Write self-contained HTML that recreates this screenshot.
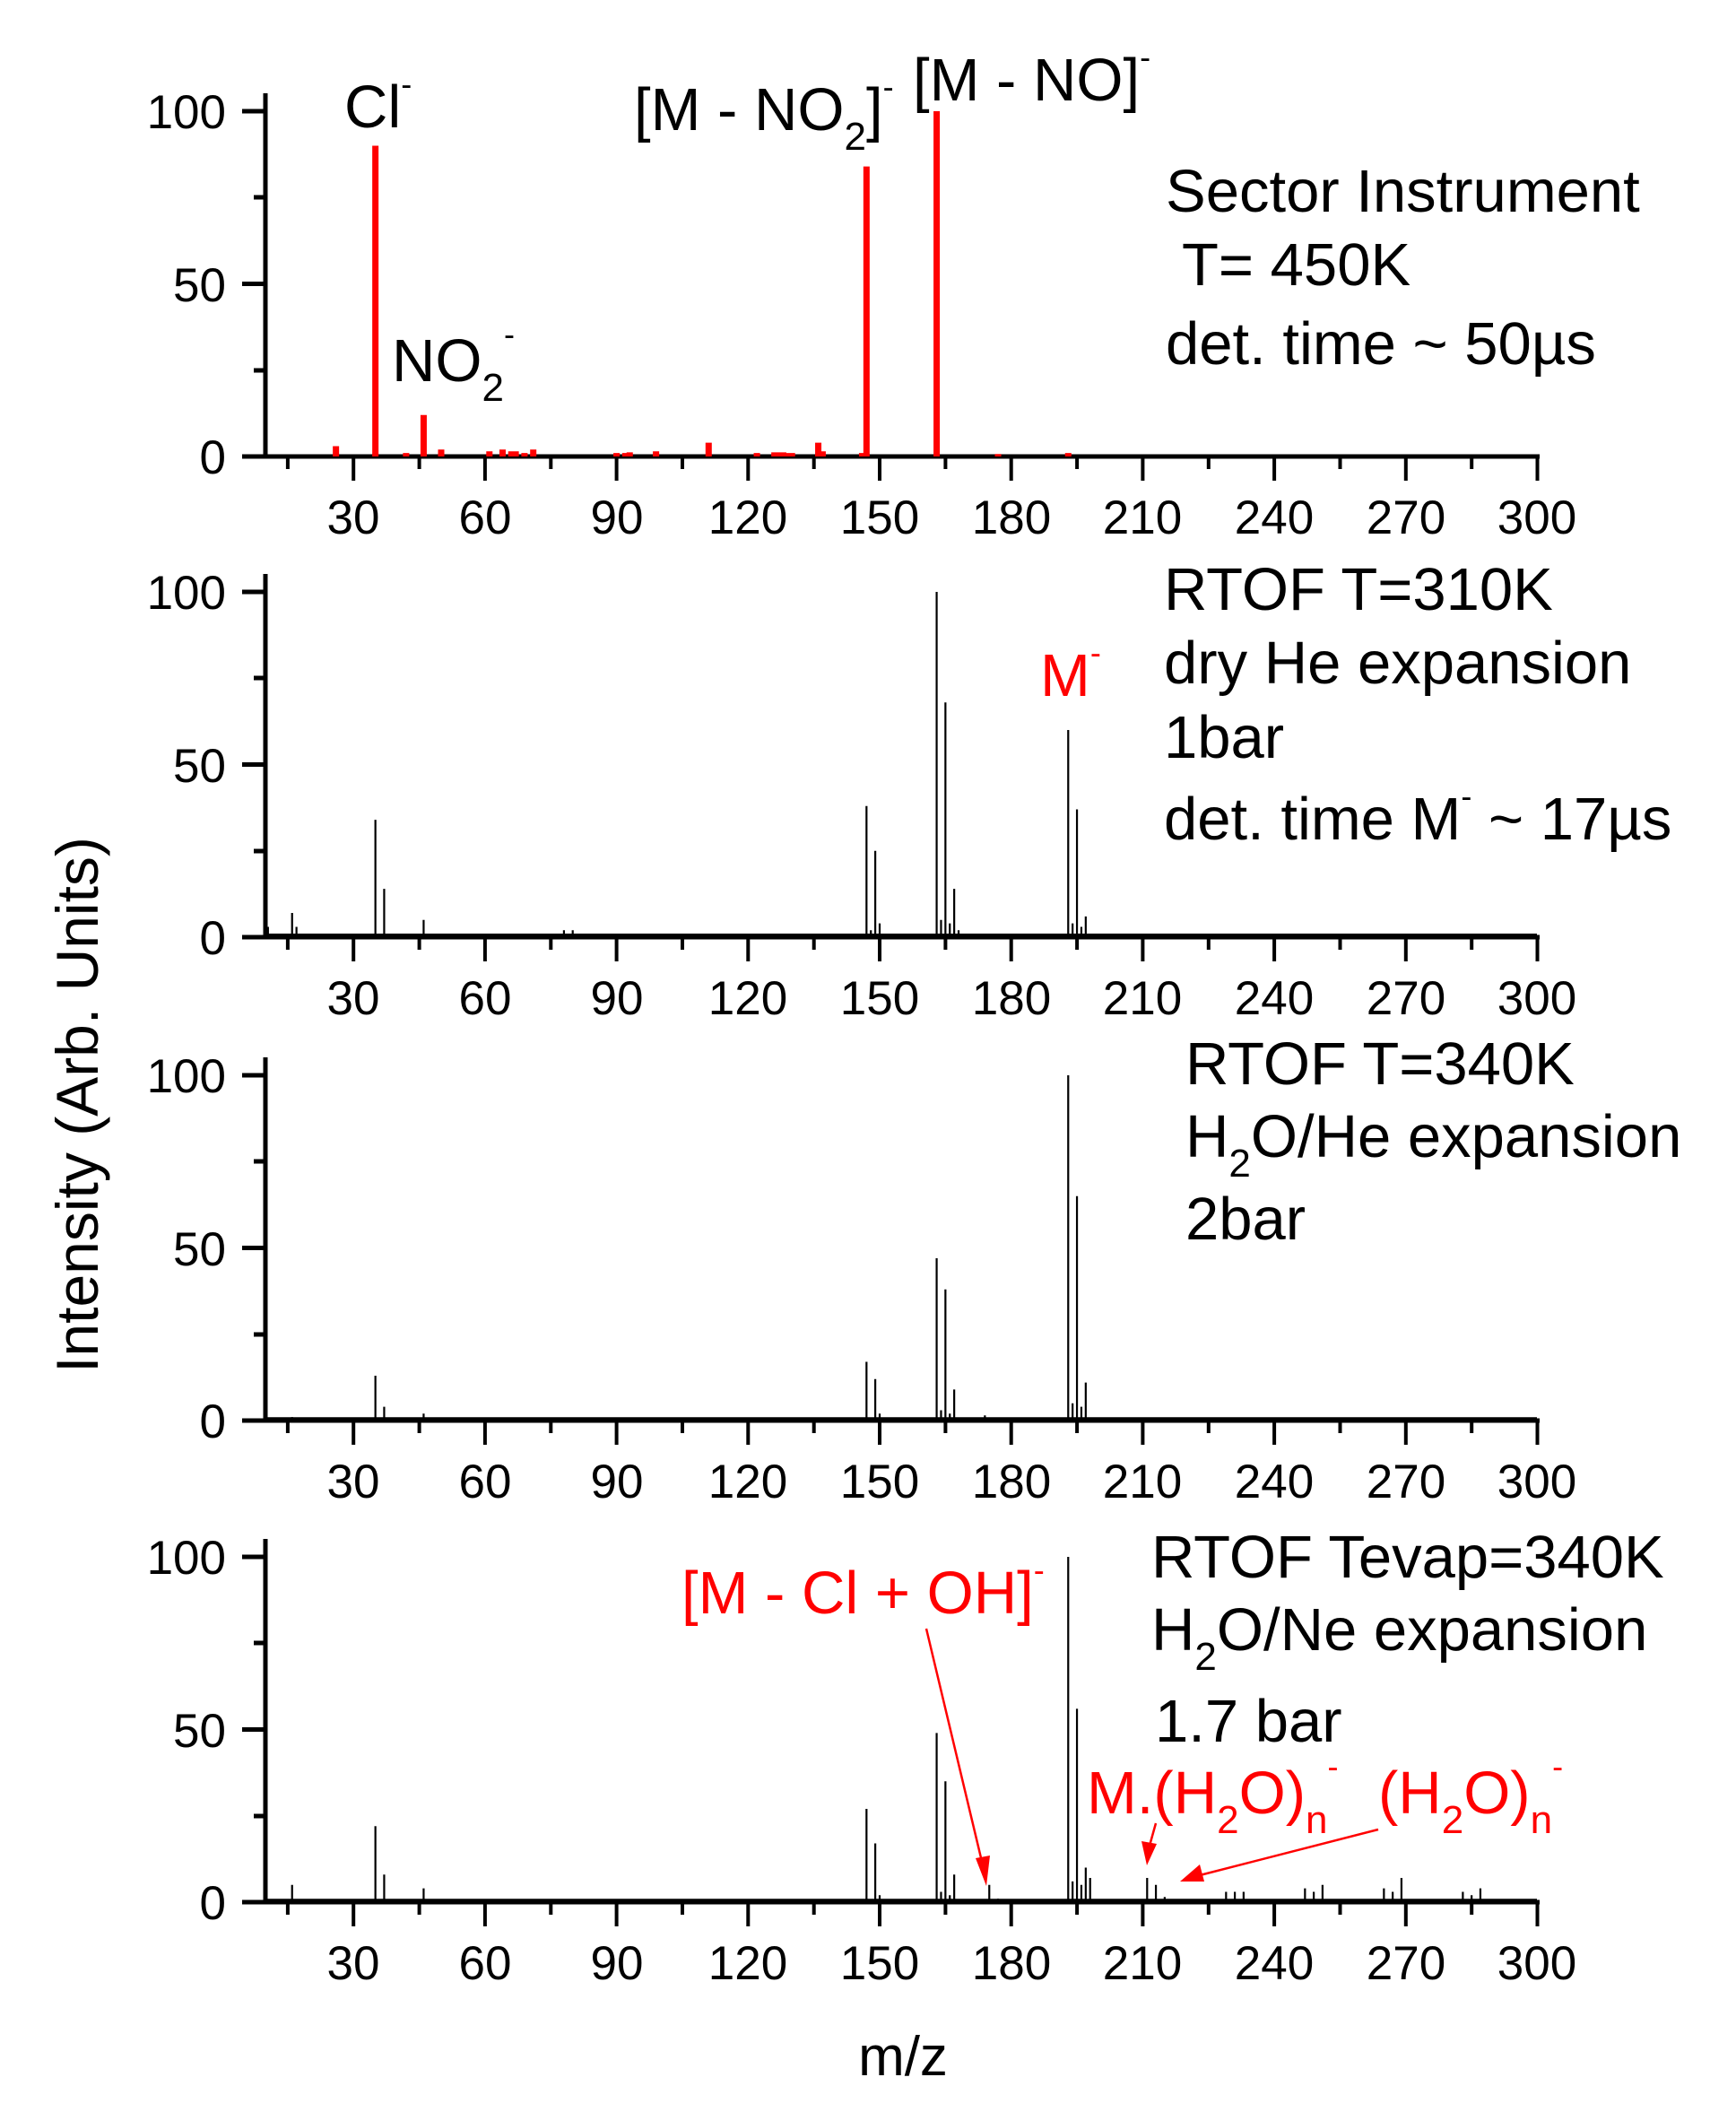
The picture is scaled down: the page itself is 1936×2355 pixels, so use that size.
<!DOCTYPE html>
<html><head><meta charset="utf-8">
<style>
html,body{margin:0;padding:0;background:#fff;}
svg{display:block;}
text{font-family:"Liberation Sans",Arial,sans-serif;}
</style></head>
<body>
<svg width="1936" height="2355" viewBox="0 0 1936 2355" xmlns="http://www.w3.org/2000/svg">
<defs>
<g id="xaxis">
  <line x1="294" y1="0" x2="1717" y2="0" stroke="#000" stroke-width="5"/>
  <g stroke="#000" stroke-width="4">
    <line x1="394.2" y1="0" x2="394.2" y2="27"/><line x1="540.9" y1="0" x2="540.9" y2="27"/>
    <line x1="687.6" y1="0" x2="687.6" y2="27"/><line x1="834.3" y1="0" x2="834.3" y2="27"/>
    <line x1="981" y1="0" x2="981" y2="27"/><line x1="1127.7" y1="0" x2="1127.7" y2="27"/>
    <line x1="1274.4" y1="0" x2="1274.4" y2="27"/><line x1="1421.1" y1="0" x2="1421.1" y2="27"/>
    <line x1="1567.8" y1="0" x2="1567.8" y2="27"/><line x1="1714.5" y1="0" x2="1714.5" y2="27"/>
    <line x1="320.9" y1="0" x2="320.9" y2="14"/><line x1="467.6" y1="0" x2="467.6" y2="14"/>
    <line x1="614.3" y1="0" x2="614.3" y2="14"/><line x1="761" y1="0" x2="761" y2="14"/>
    <line x1="907.7" y1="0" x2="907.7" y2="14"/><line x1="1054.4" y1="0" x2="1054.4" y2="14"/>
    <line x1="1201.1" y1="0" x2="1201.1" y2="14"/><line x1="1347.8" y1="0" x2="1347.8" y2="14"/>
    <line x1="1494.5" y1="0" x2="1494.5" y2="14"/><line x1="1641.2" y1="0" x2="1641.2" y2="14"/>
  </g>
  <g font-size="53" text-anchor="middle">
    <text x="394" y="86">30</text><text x="541" y="86">60</text><text x="688" y="86">90</text>
    <text x="834" y="86">120</text><text x="981" y="86">150</text><text x="1128" y="86">180</text>
    <text x="1274" y="86">210</text><text x="1421" y="86">240</text><text x="1568" y="86">270</text>
    <text x="1714" y="86">300</text>
  </g>
  <line x1="296" y1="0" x2="296" y2="-405" stroke="#000" stroke-width="5"/>
  <g stroke="#000" stroke-width="5">
    <line x1="270" y1="0" x2="296" y2="0"/><line x1="270" y1="-192.5" x2="296" y2="-192.5"/>
    <line x1="270" y1="-385" x2="296" y2="-385"/>
    <line x1="283" y1="-96" x2="296" y2="-96"/><line x1="283" y1="-289" x2="296" y2="-289"/>
  </g>
  <g font-size="53" text-anchor="end">
    <text x="252" y="19">0</text><text x="252" y="-173">50</text><text x="252" y="-366">100</text>
  </g>
</g>
</defs>

<!-- Panel 1 -->
<g transform="translate(0,509)">
  <use href="#xaxis"/>
  <g transform="translate(247.5,0) scale(4.89,-3.85)">
    <path vector-effect="non-scaling-stroke" stroke="#f00" stroke-width="7" fill="none"
      d="M26 0V3M35 0V90M42 0V1M46 0V12M50 0V2M61 0V1.5M64 0V2M66 0V1.5M67 0V1.5M69 0V1M71 0V2M90 0V1M92 0V1M93 0V1.2M99 0V1.5M111 0V4M122 0V1M126 0V1.2M127 0V1.2M128 0V1.2M129 0V1M130 0V1M136 0V4M137 0V1.5M146 0V1M147 0V84M163 0V100M177 0V0.7M193 0V1"/>
  </g>
</g>
<!-- Panel 2 -->
<g transform="translate(0,1045)">
  <use href="#xaxis"/>
  <line x1="296" y1="-3" x2="1714" y2="-3" stroke="#000" stroke-width="2"/>
  <g transform="translate(247.5,0) scale(4.89,-3.85)">
    <path vector-effect="non-scaling-stroke" stroke="#000" stroke-width="2.2" fill="none"
      d="M10 0V8M10.5 0V3M16 0V7M17 0V3M35 0V34M37 0V14M46 0V5M78 0V2M80 0V2M111 0V1M147 0V38M148 0V2M149 0V25M150 0V4M163 0V100M164 0V5M165 0V68M166 0V4M167 0V14M168 0V2M193 0V60M194 0V4M195 0V37M196 0V3M197 0V6"/>
  </g>
</g>
<!-- Panel 3 -->
<g transform="translate(0,1584)">
  <use href="#xaxis"/>
  <line x1="296" y1="-3" x2="1714" y2="-3" stroke="#000" stroke-width="1.5"/>
  <g transform="translate(247.5,0) scale(4.89,-3.85)">
    <path vector-effect="non-scaling-stroke" stroke="#000" stroke-width="2.2" fill="none"
      d="M16 0V1M35 0V13M37 0V4M46 0V2M147 0V17M149 0V12M150 0V2M163 0V47M164 0V3M165 0V38M166 0V2M167 0V9M174 0V1.5M193 0V100M194 0V5M195 0V65M196 0V4M197 0V11"/>
  </g>
</g>
<!-- Panel 4 -->
<g transform="translate(0,2121)">
  <use href="#xaxis"/>
  <line x1="296" y1="-3" x2="1714" y2="-3" stroke="#000" stroke-width="1.5"/>
  <g transform="translate(247.5,0) scale(4.89,-3.85)">
    <path vector-effect="non-scaling-stroke" stroke="#000" stroke-width="2.2" fill="none"
      d="M10 0V5M16 0V5M35 0V22M37 0V8M46 0V4M147 0V27M149 0V17M150 0V2M163 0V49M164 0V3M165 0V35M166 0V2M167 0V8M175 0V5M177 0V1M193 0V100M194 0V6M195 0V56M196 0V5M197 0V10M198 0V7M211 0V7M213 0V5M215 0V1.5M229 0V3M231 0V3M233 0V3M247 0V4M249 0V3M251 0V5M265 0V4M267 0V3M269 0V7M283 0V3M285 0V2M287 0V4"/>
  </g>
</g>

<!-- Axis titles -->
<text x="0" y="0" font-size="66" text-anchor="middle" transform="translate(109,1232) rotate(-90)">Intensity (Arb. Units)</text>
<text x="1007" y="2314" font-size="62" text-anchor="middle">m/z</text>

<!-- Panel 1 annotations -->
<g font-size="67">
  <text x="384" y="142">Cl<tspan font-size="36" dy="-36">-</tspan></text>
  <text x="437" y="425">NO<tspan font-size="44" dy="22">2</tspan><tspan font-size="36" dy="-62">-</tspan></text>
  <text x="707" y="145">[M - NO<tspan font-size="44" dy="22">2</tspan><tspan dy="-22">]</tspan><tspan font-size="36" dy="-36">-</tspan></text>
  <text x="1018" y="112">[M - NO]<tspan font-size="36" dy="-36">-</tspan></text>
  <text x="1300" y="236">Sector Instrument</text>
  <text x="1318" y="318">T= 450K</text>
  <text x="1300" y="406">det. time ~ 50µs</text>
</g>
<!-- Panel 2 annotations -->
<g font-size="67">
  <text x="1298" y="680">RTOF T=310K</text>
  <text x="1298" y="762">dry He expansion</text>
  <text x="1298" y="845">1bar</text>
  <text x="1298" y="936">det. time M<tspan font-size="36" dy="-36">-</tspan><tspan dy="36"> ~ 17µs</tspan></text>
  <text x="1160" y="776" fill="#f00">M<tspan font-size="36" dy="-36">-</tspan></text>
</g>
<!-- Panel 3 annotations -->
<g font-size="67">
  <text x="1322" y="1209">RTOF T=340K</text>
  <text x="1322" y="1290">H<tspan font-size="44" dy="22">2</tspan><tspan dy="-22">O/He expansion</tspan></text>
  <text x="1322" y="1382">2bar</text>
</g>
<!-- Panel 4 annotations -->
<g font-size="67">
  <text x="1284" y="1759">RTOF Tevap=340K</text>
  <text x="1284" y="1840">H<tspan font-size="44" dy="22">2</tspan><tspan dy="-22">O/Ne expansion</tspan></text>
  <text x="1288" y="1942">1.7 bar</text>
</g>
<g font-size="67" fill="#f00">
  <text x="760" y="1799">[M - Cl + OH]<tspan font-size="36" dy="-36">-</tspan></text>
  <text x="1212" y="2022">M.(H<tspan font-size="44" dy="22">2</tspan><tspan dy="-22">O)</tspan><tspan font-size="44" dy="22">n</tspan><tspan font-size="36" dy="-62">-</tspan></text>
  <text x="1537" y="2022">(H<tspan font-size="44" dy="22">2</tspan><tspan dy="-22">O)</tspan><tspan font-size="44" dy="22">n</tspan><tspan font-size="36" dy="-62">-</tspan></text>
</g>
<!-- arrows -->
<g stroke="#f00" stroke-width="2.5" fill="#f00">
  <line x1="1033" y1="1816" x2="1096" y2="2080"/>
  <polygon points="1100,2103 1088,2072 1104,2069" stroke="none"/>
  <line x1="1289" y1="2033" x2="1282" y2="2058"/>
  <polygon points="1279,2080 1273,2053 1290,2056" stroke="none"/>
  <line x1="1537" y1="2040" x2="1338" y2="2091"/>
  <polygon points="1316,2098 1338,2079 1343,2098" stroke="none"/>
</g>
</svg>
</body></html>
